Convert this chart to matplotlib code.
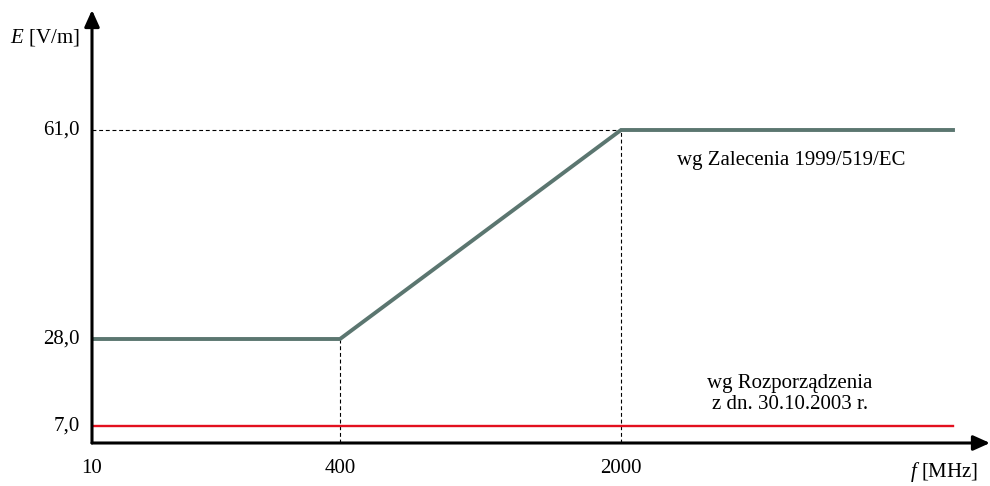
import numpy as np
import matplotlib.pyplot as plt

plt.rcParams['font.family'] = ['Liberation Serif', 'DejaVu Serif']
plt.rcParams['mathtext.fontset'] = 'custom'
plt.rcParams['mathtext.it'] = 'Liberation Serif:italic'
plt.rcParams['mathtext.rm'] = 'Liberation Serif'

# Data
freq_ticks = [10, 400, 2000]
freq_labels = ['10', '400', '2000']
e_ticks = [7.0, 28.0, 61.0]
e_labels = ['7,0', '28,0', '61,0']

# wg Zalecenia 1999/519/EC
rec_freq = [10, 400, 2000, 300000]
rec_E = [28.0, 28.0, 61.0, 61.0]

# wg Rozporzadzenia
reg_freq = [10, 300000]
reg_E = [7.0, 7.0]

# schematic (non-linear) axes
fx = [10, 400, 2000, 300000, 400000]
px = [0, 248, 529, 861, 898]
fy = [0, 7, 28, 61, 80]
py = [0, 17, 104, 313, 433]


def xf(v):
    return np.interp(v, fx, px)


def xi(v):
    return np.interp(v, px, fx)


def yf(v):
    return np.interp(v, fy, py)


def yi(v):
    return np.interp(v, py, fy)


fig = plt.figure(figsize=(9.9, 4.86), dpi=100)
ax = fig.add_axes([92 / 990, 43 / 486, 898 / 990, 433 / 486])
ax.set_xscale('function', functions=(xf, xi))
ax.set_yscale('function', functions=(yf, yi))
ax.set_xlim(10, 400000)
ax.set_ylim(0, 80)
for s in ax.spines.values():
    s.set_visible(False)
ax.set_xticks([])
ax.set_yticks([])

# axes with arrows
arrow = dict(arrowstyle='-|>,head_length=1.0,head_width=0.45', lw=2.2, color='black',
             shrinkA=0, shrinkB=0)
ax.annotate('', xy=(1.0, 0), xytext=(0, 0), xycoords='axes fraction', arrowprops=arrow)
ax.annotate('', xy=(0, 1.0), xytext=(0, 0), xycoords='axes fraction', arrowprops=arrow)

# dashed guides
dash = dict(color='black', lw=0.8, dashes=(3.5, 2.5))
ax.plot([400, 400], [0, 28.0], **dash)
ax.plot([2000, 2000], [0, 61.0], **dash)
ax.plot([10, 2000], [61.0, 61.0], **dash)

ax.plot(rec_freq, rec_E, color='#5b7670', lw=2.8, solid_joinstyle='miter')
ax.plot(reg_freq, reg_E, color='#e3101e', lw=1.7)

# tick labels
for f, lab in zip(freq_ticks, freq_labels):
    ax.annotate(lab, xy=(f, 0), xytext=(0, -18), textcoords='offset points',
                ha='center', va='center', fontsize=15)
for e, lab in zip(e_ticks, e_labels):
    ax.annotate(lab, xy=(10, e), xytext=(-9, 0), textcoords='offset points',
                ha='right', va='center', fontsize=15)

fig.text(10 / 990, 1 - 38 / 486, r'$E$ [V/m]', fontsize=15, ha='left', va='center')
fig.text(978 / 990, 1 - 472 / 486, r'$f$ [MHz]', fontsize=15, ha='right', va='center')

fig.text(791 / 990, 1 - 160 / 486, 'wg Zalecenia 1999/519/EC', fontsize=15, ha='center', va='center')
fig.text(790 / 990, 1 - 394 / 486, 'wg Rozporządzenia\nz dn. 30.10.2003 r.', fontsize=15,
         ha='center', va='center', linespacing=1.2)

fig.savefig('out.png', dpi=100)
